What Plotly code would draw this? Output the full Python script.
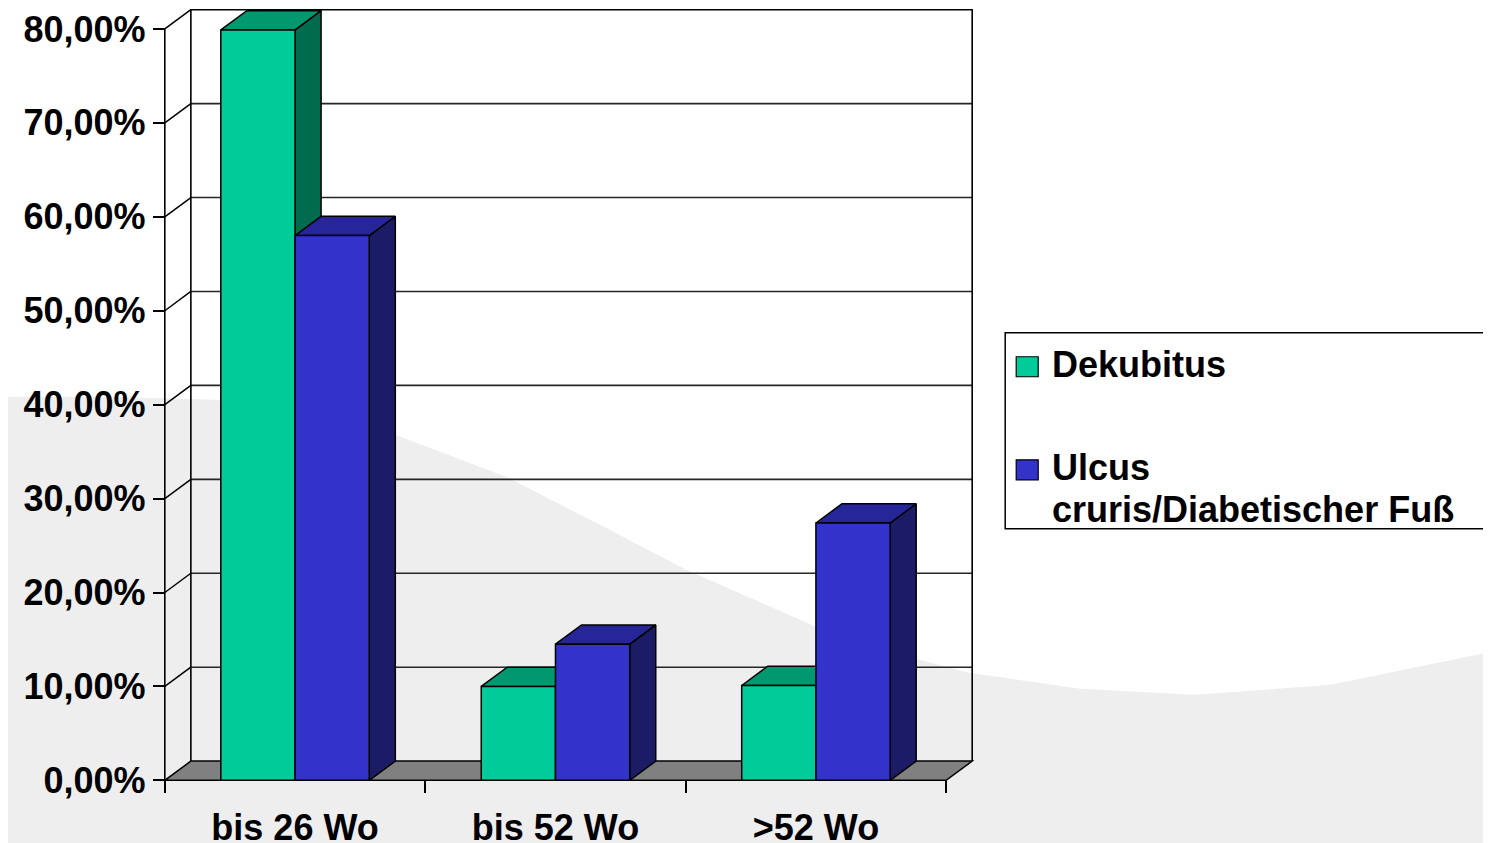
import plotly.graph_objects as go

# ---------------- data ----------------
CATEGORIES = ["bis 26 Wo", "bis 52 Wo", ">52 Wo"]
SERIES_NAMES = ["Dekubitus", "Ulcus cruris/Diabetischer Fuß"]
DEKUBITUS = [79.9, 10.0, 10.1]
ULCUS = [58.0, 14.5, 27.4]
Y_TICKS = [0, 10, 20, 30, 40, 50, 60, 70, 80]
Y_TICK_LABELS = ["0,00%", "10,00%", "20,00%", "30,00%", "40,00%",
                 "50,00%", "60,00%", "70,00%", "80,00%"]
SERIES_VALUES = [DEKUBITUS, ULCUS]

# ---------------- style ----------------
FRONT = ["#00CC99", "#3333CC"]
TOP = ["#00996F", "#262699"]
SIDE = ["#006B4D", "#1C1C66"]
FLOOR = "#808080"
WAVE = "#EEEEEE"
FONT = "Liberation Sans, Arial, sans-serif"
FS = 36

# page body has an 8px margin: the figure starts at (8, 8) in the window
OFF = 8
WIN_W, WIN_H = 1491, 843
W, H = WIN_W - OFF, WIN_H - OFF
N = len(CATEGORIES)
DX = 0.1          # depth offset in category units
DY = 2.05         # depth offset in percent units
BAR_W = 0.285     # bar width in category units
YTOP = Y_TICKS[-1] + DY
XTOP = N + DX

# window-pixel frame of the 3D box (x=0 .. XTOP, y=0 .. YTOP)
BOX_L, BOX_R, BOX_B, BOX_T = 165.0, 972.0, 780.5, 10.0
PAD_X, PAD_YB, PAD_YT = 0.03, 0.6, 0.18
ppx = (BOX_R - BOX_L) / XTOP
ppy = (BOX_B - BOX_T) / YTOP
plot_l = BOX_L - PAD_X * ppx - OFF
plot_r = BOX_R + PAD_X * ppx - OFF
plot_t = BOX_T - PAD_YT * ppy - OFF
plot_b = BOX_B + PAD_YB * ppy - OFF
XR = [-PAD_X, XTOP + PAD_X]
YR = [-PAD_YB, YTOP + PAD_YT]


def px(xw, yw):
    """window pixel -> paper coordinates"""
    xp, yp = xw - OFF, yw - OFF
    return ((xp - plot_l) / (plot_r - plot_l), (plot_b - yp) / (plot_b - plot_t))


fig = go.Figure()

# ---------------- bars (3D faces) ----------------
for i in range(N):
    for s, vals in enumerate(SERIES_VALUES):
        v = vals[i]
        xl = i + 0.5 - BAR_W + s * BAR_W
        xr = xl + BAR_W
        fig.add_trace(go.Scatter(
            x=[xr, xr + DX, xr + DX, xr, xr], y=[0, DY, v + DY, v, 0],
            mode="lines", fill="toself", fillcolor=SIDE[s],
            line=dict(color="black", width=1.5), hoverinfo="skip", showlegend=False))
        fig.add_trace(go.Scatter(
            x=[xl, xr, xr + DX, xl + DX, xl], y=[v, v, v + DY, v + DY, v],
            mode="lines", fill="toself", fillcolor=TOP[s],
            line=dict(color="black", width=1.5), hoverinfo="skip", showlegend=False))
        fig.add_trace(go.Scatter(
            x=[xl, xr, xr, xl, xl], y=[0, 0, v, v, 0],
            mode="lines", fill="toself", fillcolor=FRONT[s],
            line=dict(color="black", width=1.5), name=SERIES_NAMES[s],
            text=f"{CATEGORIES[i]}: {v:.2f}%".replace(".", ","), hoverinfo="text",
            hoveron="fills", showlegend=False))

# dummy trace to activate the overlay axis for category boundary ticks
fig.add_trace(go.Scatter(x=[0, N], y=[0, 0], xaxis="x2", mode="lines",
                         line=dict(width=0, color="rgba(0,0,0,0)"),
                         hoverinfo="skip", showlegend=False))

# ---------------- shapes: background, walls, floor, grid ----------------
shapes = []
wave_px = [(-5, 397), (110, 397), (214, 400), (300, 413), (395, 435), (506, 477),
           (600, 525), (686, 570), (816, 627), (900, 655), (969, 673), (1080, 689),
           (1194, 695), (1330, 685), (1500, 650), (1500, 850), (-5, 850)]
pts = [px(a, b) for a, b in wave_px]
path = "M " + " L ".join(f"{a:.5f},{b:.5f}" for a, b in pts) + " Z"
shapes.append(dict(type="path", xref="paper", yref="paper", path=path,
                   fillcolor=WAVE, line=dict(width=0), layer="below"))

floor = f"M 0,0 L {N},0 L {N + DX},{DY} L {DX},{DY} Z"
shapes.append(dict(type="path", xref="x", yref="y", path=floor, fillcolor=FLOOR,
                   line=dict(color="black", width=1.5), layer="below"))
for k in Y_TICKS[1:-1]:
    shapes.append(dict(type="line", xref="x", yref="y", x0=DX, x1=XTOP, y0=k + DY, y1=k + DY,
                       line=dict(color="#262626", width=1.6), layer="below"))
wall = f"M {DX},{DY} L {DX},{YTOP} L {XTOP},{YTOP} L {XTOP},{DY}"
shapes.append(dict(type="path", xref="x", yref="y", path=wall,
                   line=dict(color="black", width=1.6), layer="below"))
for k in Y_TICKS[1:]:
    shapes.append(dict(type="line", xref="x", yref="y", x0=0, x1=DX, y0=k, y1=k + DY,
                       line=dict(color="black", width=1.5), layer="below"))
shapes.append(dict(type="line", xref="x", yref="y", x0=0, x1=0, y0=0, y1=Y_TICKS[-1],
                   line=dict(color="black", width=1.6), layer="below"))

# ---------------- legend (manual) ----------------
bx0, by0 = px(1005, 333)
bx1, by1 = px(1510, 529)
shapes.append(dict(type="rect", xref="paper", yref="paper", x0=bx0, x1=bx1, y0=by1, y1=by0,
                   fillcolor="white", line=dict(color="black", width=1.5), layer="above"))
annotations = []
legend_rows = [(367, 365, [SERIES_NAMES[0]]),
               (470, 468, SERIES_NAMES[1].split(" ", 1))]
for s, (cy, ty0, lines) in enumerate(legend_rows):
    sx0, sy0 = px(1016, cy - 10)
    sx1, sy1 = px(1038, cy + 10)
    shapes.append(dict(type="rect", xref="paper", yref="paper", x0=sx0, x1=sx1, y0=sy1, y1=sy0,
                       fillcolor=FRONT[s], line=dict(color="black", width=1.2), layer="above"))
    for j, t in enumerate(lines):
        ax_, ay_ = px(1050, ty0 + j * 42)
        annotations.append(dict(xref="paper", yref="paper", x=ax_, y=ay_, text=t,
                                showarrow=False, xanchor="left", yanchor="middle",
                                font=dict(family=FONT, size=FS, color="black", weight="bold")))

fig.update_layout(
    width=W, height=H,
    margin=dict(l=plot_l, r=W - plot_r, t=plot_t, b=H - plot_b, autoexpand=False),
    paper_bgcolor="white", plot_bgcolor="rgba(0,0,0,0)",
    showlegend=False,
    shapes=shapes, annotations=annotations,
    font=dict(family=FONT, size=FS, color="black", weight="bold"),
    xaxis=dict(range=XR, anchor="free", position=PAD_YB / (YR[1] - YR[0]),
               tickmode="array", tickvals=[i + 0.5 for i in range(N)], ticktext=CATEGORIES,
               ticks="", showgrid=False, zeroline=False, showline=False,
               ticklabelstandoff=23,
               tickfont=dict(family=FONT, size=FS, color="black", weight="bold")),
    xaxis2=dict(range=XR, overlaying="x", anchor="free", position=PAD_YB / (YR[1] - YR[0]),
                side="bottom",
                tickmode="array", tickvals=list(range(N + 1)), ticks="outside", ticklen=12,
                tickwidth=1.6, tickcolor="black", showticklabels=False,
                showgrid=False, zeroline=False, showline=False),
    yaxis=dict(range=YR, anchor="free", position=PAD_X / (XR[1] - XR[0]),
               tickmode="array", tickvals=Y_TICKS, ticktext=Y_TICK_LABELS,
               ticks="outside", ticklen=12, tickwidth=1.6, tickcolor="black",
               showgrid=False, zeroline=False, showline=False,
               tickfont=dict(family=FONT, size=FS, color="black", weight="bold")),
)

fig.write_html("out.html")
